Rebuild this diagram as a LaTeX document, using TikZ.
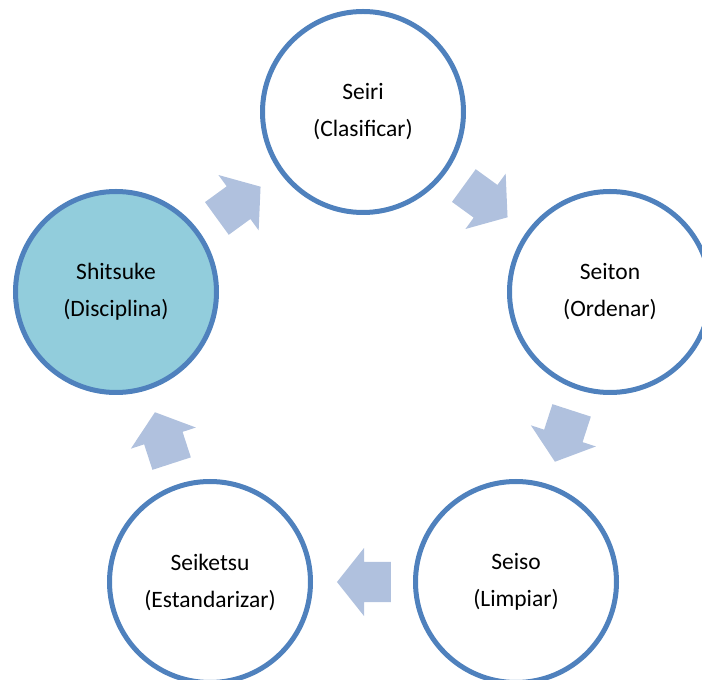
\documentclass[tikz,border=0pt]{standalone}
\usepackage{fontspec}
\setmainfont{Carlito}
\usepackage{tikz}
\usetikzlibrary{shapes.arrows, calc}
\definecolor{ringblue}{RGB}{79,129,189}
\definecolor{fillaqua}{RGB}{146,205,220}
\definecolor{arrowblue}{RGB}{176,193,222}

\begin{document}
\begin{tikzpicture}[
    x=1pt, y=1pt,
    stepnode/.style={circle, draw=ringblue, line width=5pt, fill=white, minimum size=201pt, inner sep=0pt, align=center, font=\fontsize{23.5}{37}\selectfont},
    cyclearrow/.style={single arrow, draw=none, fill=arrowblue, minimum height=54pt, minimum width=68pt, single arrow head extend=14pt, single arrow tip angle=103, single arrow head indent=0pt, inner xsep=0pt, inner ysep=20pt, rotate=#1, xshift=-9pt}
]
    \useasboundingbox (0,0) rectangle (702,680);
    \clip (0,0) rectangle (702,680);

    % Circles
    \node[stepnode] (seiri) at (363,568) {Seiri\\(Clasificar)};
    \node[stepnode] (seiton) at (610,388) {Seiton\\(Ordenar)};
    \node[stepnode] (seiso) at (516,98) {Seiso\\(Limpiar)};
    \node[stepnode] (seiketsu) at (210,98) {Seiketsu\\(Estandarizar)};
    \node[stepnode, fill=fillaqua] (shitsuke) at (116,388) {Shitsuke\\(Disciplina)};

    % Arrows
    \node[cyclearrow=36] (a1) at ($(shitsuke)!0.5!(seiri)$) {};
    \node[cyclearrow=-36] (a2) at ($(seiri)!0.5!(seiton)$) {};
    \node[cyclearrow=-108] (a3) at ($(seiton)!0.5!(seiso)$) {};
    \node[cyclearrow=180] (a4) at ($(seiso)!0.5!(seiketsu)$) {};
    \node[cyclearrow=108] (a5) at ($(seiketsu)!0.5!(shitsuke)$) {};
\end{tikzpicture}
\end{document}
